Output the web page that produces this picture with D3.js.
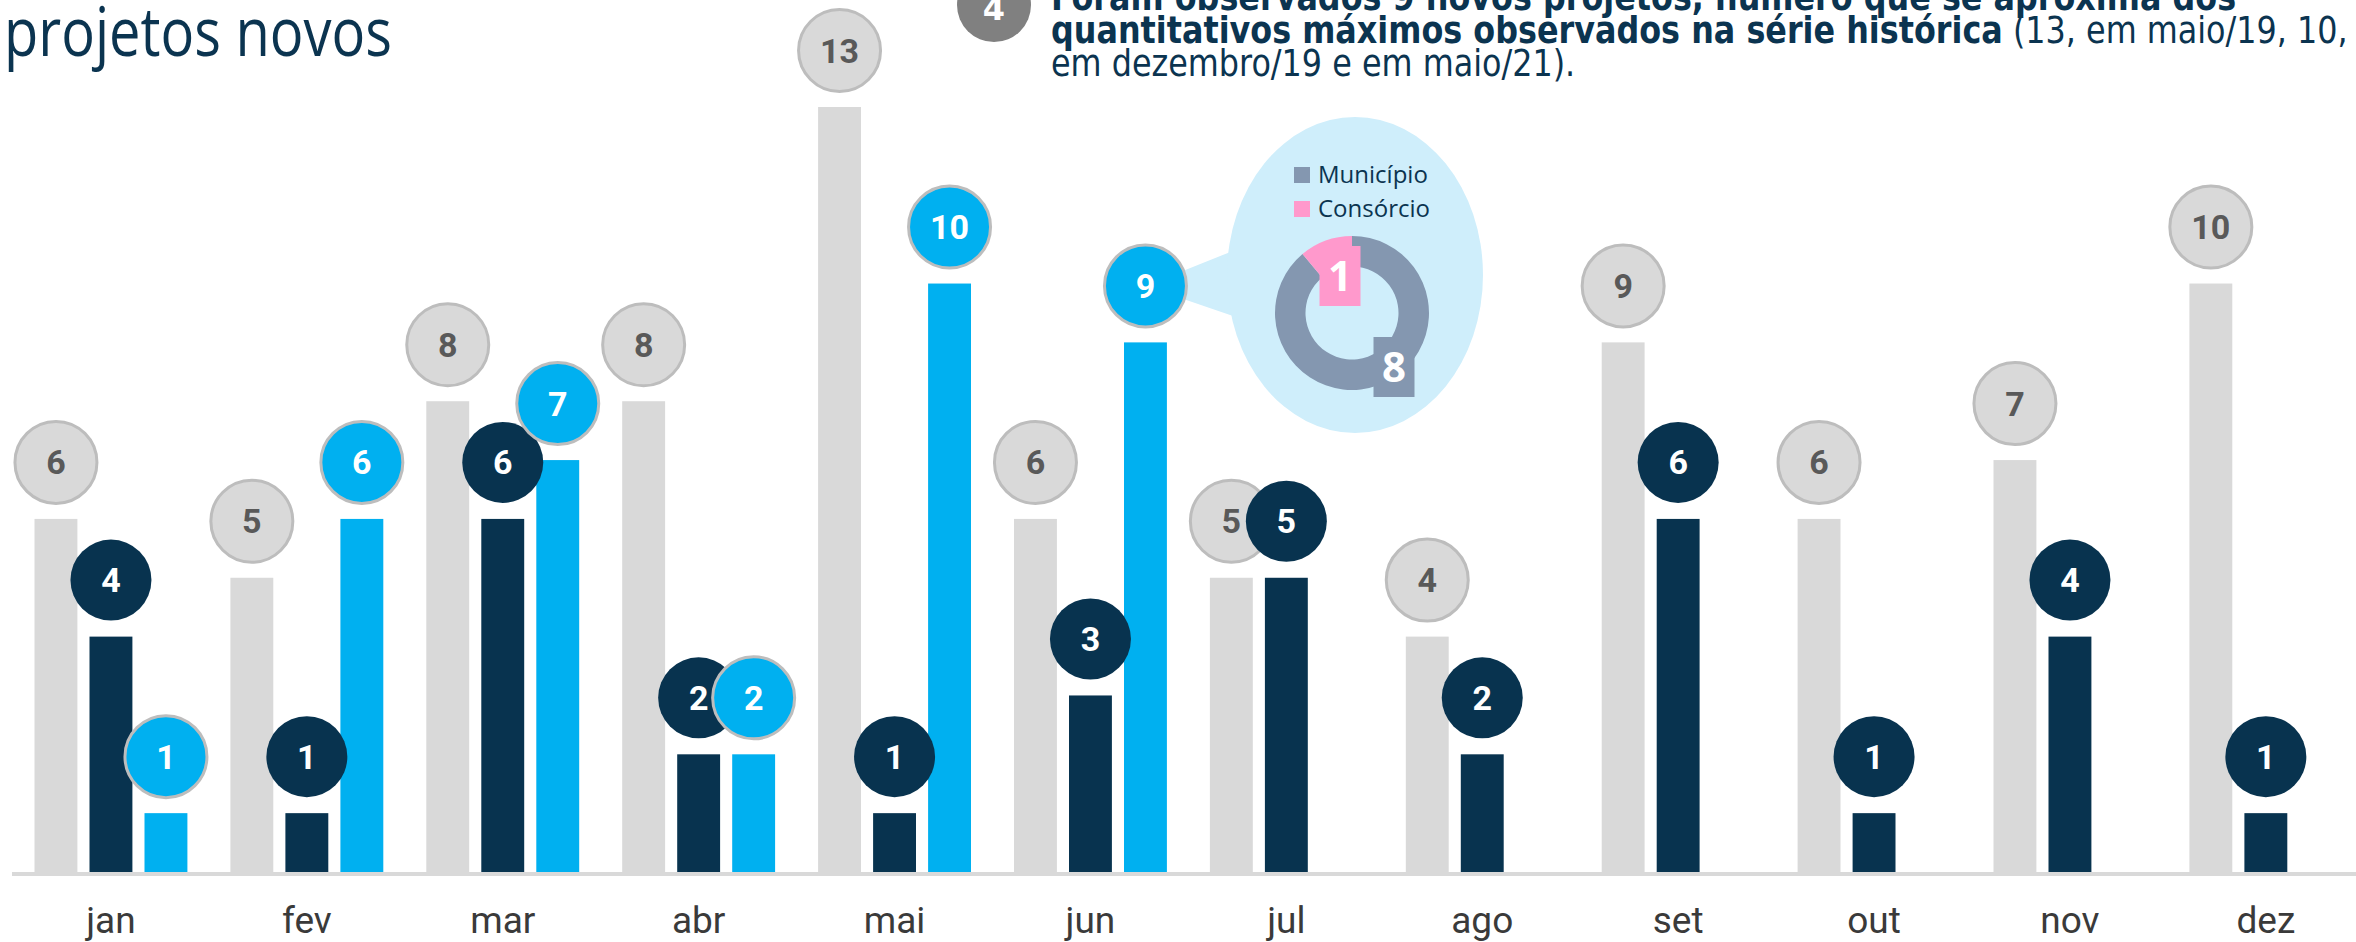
<!DOCTYPE html>
<html>
<head>
<meta charset="utf-8">
<script src="https://cdn.jsdelivr.net/npm/d3@7"></script>
<style>
  body { margin: 0; background: #fff; }
  svg { display: block; }
</style>
</head>
<body>
<script>
// data
const months = ["jan", "fev", "mar", "abr", "mai", "jun", "jul", "ago", "set", "out", "nov", "dez"];
const series = ["2019", "2020", "2021"];
const v2019 = [6, 5, 8, 8, 13, 6, 5, 4, 9, 6, 7, 10];
const v2020 = [4, 1, 6, 2, 1, 3, 5, 2, 6, 1, 4, 1];
const v2021 = [1, 6, 7, 2, 10, 9];
const donutLabels = ["Município", "Consórcio"];
const donutValues = [8, 1];

const W = 2356, H = 942;
const col = { "2019": "#d9d9d9", "2020": "#08334f", "2021": "#00b0f0" };

var svg = d3.select("body").append("svg")
    .attr("width", W)
    .attr("height", H)

// layers
var gBars = svg.append("g"),
    gCallout = svg.append("g"),
    gDots = svg.append("g"),
    gAxis = svg.append("g"),
    gText = svg.append("g");

// scales
var x0 = d3.scaleBand().domain(months).range([13, 13 + 12 * 195.9]);
var x1 = d3.scaleBand().domain(series)
    .range([x0.bandwidth() / 2 - 82.5, x0.bandwidth() / 2 + 82.5])
    .paddingInner(0.22).paddingOuter(0.11);
var y = d3.scaleLinear().domain([0, 13]).range([872, 107]);

// flatten into one list of marks
var rows = [];
months.forEach((m, i) => {
  rows.push({ m: m, s: "2019", v: v2019[i] });
  rows.push({ m: m, s: "2020", v: v2020[i] });
  if (v2021[i] != null) rows.push({ m: m, s: "2021", v: v2021[i] });
});
const cx = d => x0(d.m) + x1(d.s) + x1.bandwidth() / 2;
const cy = d => y(d.v) - 56.5;

gBars.selectAll("rect")
  .data(rows)
  .enter()
  .append("rect")
    .attr("x", d => x0(d.m) + x1(d.s))
    .attr("y", d => y(d.v))
    .attr("width", x1.bandwidth())
    .attr("height", d => y(0) - y(d.v))
    .style("fill", d => col[d.s])

// baseline
gAxis.append("line")
  .attr("x1", 12).attr("x2", W)
  .attr("y1", y(0) + 2).attr("y2", y(0) + 2)
  .style("stroke", "#d9d9d9")
  .style("stroke-width", 4)

// month labels, centered on the middle bar
gAxis.selectAll(".mlab")
  .data(months)
  .enter()
  .append("text")
    .attr("class", "mlab")
    .attr("x", m => x0(m) + x1("2020") + x1.bandwidth() / 2)
    .attr("y", 933)
    .attr("text-anchor", "middle")
    .attr("font-family", "Roboto")
    .attr("font-size", "37px")
    .attr("fill", "#3a3a3a")
    .text(m => m)

// callout bubble for jun/21
var jun = rows.find(d => d.m == "jun" && d.s == "2021");
var bub = { cx: 1355, cy: 275, rx: 128, ry: 158 };
gCallout.append("path")
  .attr("d", `M${cx(jun)},${cy(jun)} L${bub.cx - bub.rx + 6},${cy(jun) - 35} L${bub.cx - bub.rx + 6},${cy(jun) + 30} Z`)
  .style("fill", "#cfeefb")
gCallout.append("ellipse")
  .attr("cx", bub.cx).attr("cy", bub.cy)
  .attr("rx", bub.rx).attr("ry", bub.ry)
  .style("fill", "#cfeefb")

// donut
const dCol = { "Município": "#8497b0", "Consórcio": "#ff99cc" };
var pie = d3.pie().sort(null).value(d => d.v);
var arc = d3.arc().innerRadius(46.5).outerRadius(77);
var donutData = pie(donutLabels.map((l, i) => ({ l: l, v: donutValues[i] })));
var gD = gCallout.append("g").attr("transform", "translate(1352,313)");
gD.selectAll("path")
  .data(donutData)
  .enter()
  .append("path")
    .attr("d", arc)
    .style("fill", d => dCol[d.data.l])
// value boxes
const boxOff = { "Município": [42, 54], "Consórcio": [-12, -37] };
donutData.forEach(d => {
  var o = boxOff[d.data.l];
  gD.append("rect")
    .attr("x", o[0] - 20.5).attr("y", o[1] - 30)
    .attr("width", 41).attr("height", 60)
    .style("fill", dCol[d.data.l])
  gD.append("text")
    .attr("x", o[0]).attr("y", o[1] + 15)
    .attr("text-anchor", "middle")
    .attr("font-family", "Open Sans")
    .attr("font-weight", "bold")
    .attr("font-size", "42px")
    .attr("fill", "white")
    .text(d.value)
});
// legend
donutLabels.forEach((l, i) => {
  gCallout.append("rect")
    .attr("x", 1294).attr("y", 167 + i * 34)
    .attr("width", 16).attr("height", 16)
    .style("fill", dCol[l])
  gCallout.append("text")
    .attr("x", 1318).attr("y", 183 + i * 34)
    .attr("font-family", "Open Sans")
    .attr("font-size", "24px")
    .attr("fill", "#0b3450")
    .text(l)
});

// value bubbles: gray, then dark, then light blue on top
series.forEach(s => {
  var g = gDots.append("g");
  var sub = rows.filter(d => d.s == s);
  g.selectAll("circle")
    .data(sub)
    .enter()
    .append("circle")
      .attr("cx", cx)
      .attr("cy", cy)
      .attr("r", s == "2020" ? 40.5 : 41)
      .style("fill", col[s])
      .style("stroke", s == "2020" ? "none" : "#bdbdbd")
      .style("stroke-width", 3)
  g.selectAll("text")
    .data(sub)
    .enter()
    .append("text")
      .attr("x", cx)
      .attr("y", d => cy(d) + 12)
      .attr("text-anchor", "middle")
      .attr("font-family", "Roboto")
      .attr("font-weight", "bold")
      .attr("font-size", "34px")
      .attr("fill", s == "2019" ? "#595959" : "white")
      .text(d => d.v)
});

// title
gText.append("text")
  .attr("x", 4).attr("y", 56)
  .attr("font-family", "Open Sans")
  .attr("font-size", "68px")
  .attr("fill", "#0b3450")
  .attr("textLength", 388)
  .attr("lengthAdjust", "spacingAndGlyphs")
  .text("projetos novos")

// note badge
gText.append("circle")
  .attr("cx", 994).attr("cy", 5).attr("r", 37)
  .style("fill", "#808080")
gText.append("text")
  .attr("x", 994).attr("y", 20)
  .attr("text-anchor", "middle")
  .attr("font-family", "DejaVu Sans")
  .attr("font-weight", "bold")
  .attr("font-size", "32px")
  .attr("fill", "white")
  .text("4")

// note text, squeezed horizontally like the original
var noteLines = [
  [["Foram observados 9 novos projetos, número que se aproxima dos", true]],
  [["quantitativos máximos observados na série histórica", true], [" (13, em maio/19, 10,", false]],
  [["em dezembro/19 e em maio/21).", false]]
];
var lineG = noteLines.map((parts, i) => {
  var g = gText.append("g").attr("transform", `translate(1051,${10 + i * 33})`);
  var t = g.append("text")
    .attr("font-family", "DejaVu Sans")
    .attr("font-size", "38px")
    .attr("fill", "#0b3450")
    .attr("xml:space", "preserve")
  parts.forEach(p => {
    t.append("tspan").attr("font-weight", p[1] ? "bold" : "normal").text(p[0])
  });
  return { g: g, t: t };
});
var sx = 1297 / lineG[1].t.node().getComputedTextLength();
lineG.forEach((l, i) => l.t.attr("transform", `scale(${sx},1)`));
</script>
</body>
</html>
